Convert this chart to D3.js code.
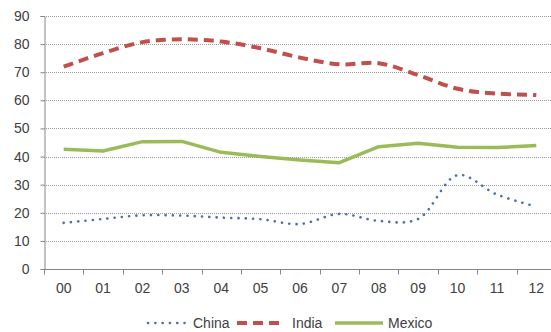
<!DOCTYPE html>
<html><head><meta charset="utf-8">
<script src="https://cdn.jsdelivr.net/npm/d3@7"></script>
<style>body{margin:0;background:#fff}svg{display:block}text{font-family:"Liberation Sans",Arial,sans-serif;fill:#404040}</style>
</head><body><svg id="c" width="551" height="332"></svg>
<script>
const categories = ["00","01","02","03","04","05","06","07","08","09","10","11","12"];
const china  = [16.4, 17.8, 19.1, 19.0, 18.3, 17.7, 16.0, 19.6, 17.1, 17.8, 33.4, 26.5, 22.2];
const india  = [72.0, 76.8, 80.7, 81.7, 80.9, 78.5, 75.2, 72.8, 73.2, 69.0, 64.1, 62.4, 61.9];
const mexico = [42.6, 42.0, 45.3, 45.4, 41.5, 40.0, 38.8, 37.8, 43.5, 44.7, 43.3, 43.2, 43.9];
const yTicks = [0,10,20,30,40,50,60,70,80,90];

(function () {
const svg = d3.select("#c");
const pL = 44, pR = 556, pT = 16, pB = 269;
const fs = 14;
const x = d3.scaleBand().domain(categories).range([pL, pR]);
const y = d3.scaleLinear().domain([0, 90]).range([pB, pT]);

// gridlines
svg.append("g").selectAll("line").data(yTicks.filter(d => d > 0)).join("line")
  .attr("x1", pL).attr("x2", pR)
  .attr("y1", d => Math.round(y(d)) + 0.5).attr("y2", d => Math.round(y(d)) + 0.5)
  .attr("stroke", "#9a9a9a").attr("stroke-width", 1).attr("stroke-dasharray", "1,1");

// y axis
const ya = svg.append("g").attr("transform", `translate(${pL + 0.5},0)`)
  .call(d3.axisLeft(y).tickValues(yTicks).tickSize(4).tickPadding(11));
ya.select(".domain").attr("stroke", "#868686");
ya.selectAll(".tick line").attr("stroke", "#868686");
ya.selectAll("text").attr("font-size", fs).attr("fill", "#404040").style("font-family", "Liberation Sans, Arial, sans-serif");

// x axis with ticks at category boundaries
const xa = svg.append("g").attr("transform", `translate(0,${pB + 0.5})`);
xa.append("line").attr("x1", pL).attr("x2", pR).attr("stroke", "#868686");
const bounds = d3.range(categories.length + 1).map(i => pL + i * x.step());
xa.selectAll(".tk").data(bounds).join("line").attr("class", "tk")
  .attr("x1", d => Math.round(d) + 0.5).attr("x2", d => Math.round(d) + 0.5)
  .attr("y1", 0).attr("y2", 5).attr("stroke", "#868686");
xa.selectAll("text").data(categories).join("text")
  .attr("x", d => x(d) + x.bandwidth() / 2).attr("y", 23)
  .attr("text-anchor", "middle").attr("font-size", fs).text(d => d);

const cx = (d, i) => x(categories[i]) + x.bandwidth() / 2;
const lineSmooth = d3.line().x(cx).y(d => y(d)).curve(d3.curveCatmullRom.alpha(0.5));
const lineStraight = d3.line().x(cx).y(d => y(d));

svg.append("path").attr("d", lineStraight(mexico)).attr("fill", "none")
  .attr("stroke", "#9BBB59").attr("stroke-width", 3.5).attr("stroke-linejoin", "round");
svg.append("path").attr("d", lineSmooth(india)).attr("fill", "none")
  .attr("stroke", "#C0504D").attr("stroke-width", 4).attr("stroke-dasharray", "10,6");
svg.append("path").attr("d", lineSmooth(china)).attr("fill", "none")
  .attr("stroke", "#4F6FA8").attr("stroke-width", 2.6).attr("stroke-linecap", "round")
  .attr("stroke-dasharray", "0.1,7.2");

// legend
const legend = [
  {name: "China", color: "#4F6FA8", w: 2.6, dash: "0.1,7.2", cap: "round", x1: 148, x2: 187, tx: 193},
  {name: "India", color: "#C0504D", w: 4, dash: "10,6", cap: "butt", x1: 237, x2: 285, tx: 292},
  {name: "Mexico", color: "#9BBB59", w: 3.5, dash: null, cap: "butt", x1: 335, x2: 383, tx: 388}
];
const lg = svg.append("g");
legend.forEach(l => {
  lg.append("line").attr("x1", l.x1).attr("x2", l.x2).attr("y1", 323).attr("y2", 323)
    .attr("stroke", l.color).attr("stroke-width", l.w).attr("stroke-linecap", l.cap)
    .attr("stroke-dasharray", l.dash);
  lg.append("text").attr("x", l.tx).attr("y", 328).attr("font-size", fs).text(l.name);
});
})();
</script></body></html>
